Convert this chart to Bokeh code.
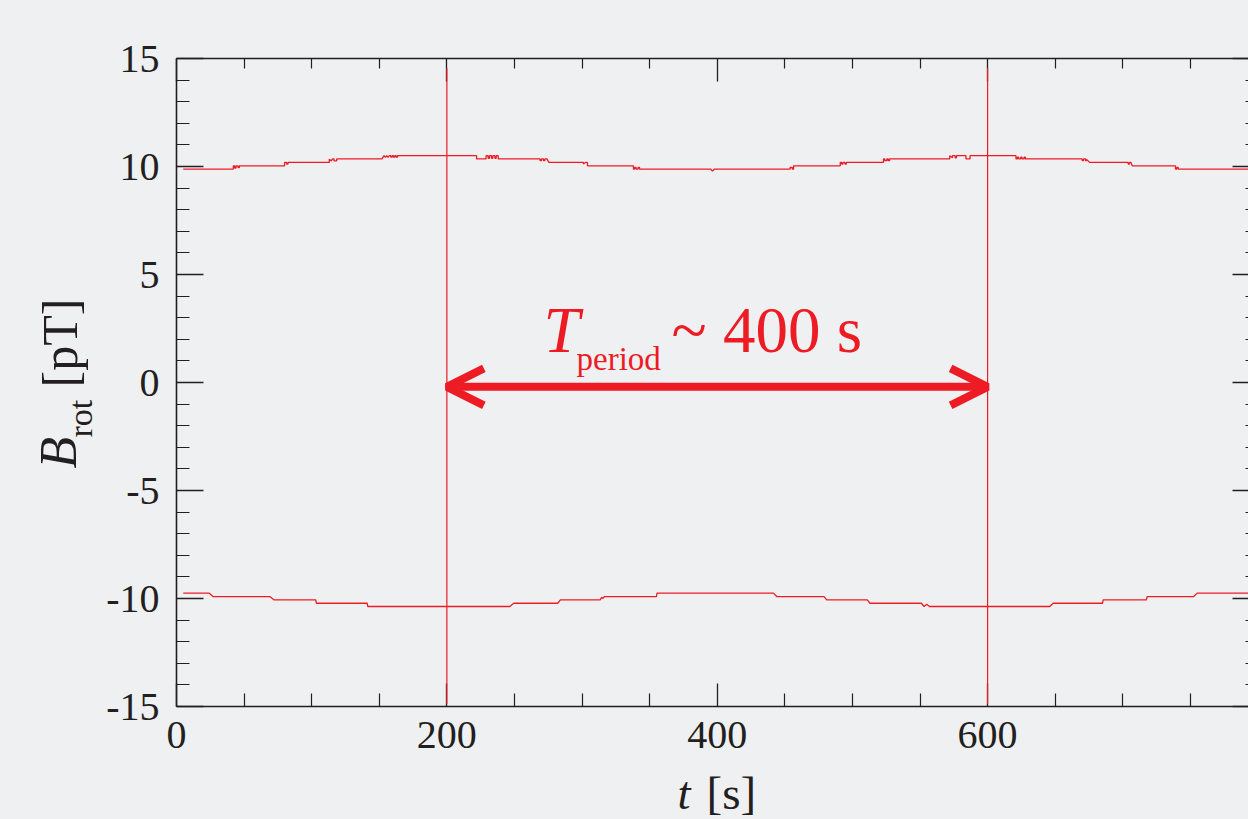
from math import pi

from bokeh.plotting import figure
from bokeh.layouts import row, column
from bokeh.models import Range1d, LinearAxis, FixedTicker, Label, Arrow, OpenHead
from bokeh.core.properties import value
from bokeh.embed import file_html
from bokeh.resources import INLINE

# ---------------- data ----------------
upper_t = [5, 42, 42, 43, 43, 44, 44, 45.5, 45.5, 46.5, 46.5,
           80, 80, 81.5, 81.5, 82.5, 82.5,
           113, 113, 114.5, 115.5, 116.5, 116.5, 118.5, 118.5,
           152, 153.5, 154.5, 155.5, 156.5, 157.5, 158.5, 158.5, 159.5, 159.5, 160.5, 160.5,
           161.5, 161.5, 162.5, 162.5, 163.5, 163.5,
           222, 222, 229, 229, 230.5, 230.5, 231.5, 231.5, 233, 233, 234, 234, 235.5, 235.5,
           236.5, 236.5, 238, 238,
           269, 269, 270, 270, 271.5, 271.5, 272.5, 272.5, 274, 275.5,
           301, 301, 302.5, 304, 304,
           338, 338, 339, 339, 340, 340, 341.5, 341.5, 342.5, 342.5,
           395, 396.5, 398,
           454, 454, 455.5, 455.5, 456.5, 456.5,
           491, 491, 492, 492, 493, 493, 494.5, 494.5, 495.5, 495.5,
           523, 523, 524, 524, 525.5, 525.5, 526.5, 526.5, 527.5, 527.5,
           572, 572, 574, 574, 576, 576, 577, 577, 584, 584, 587, 587,
           621, 621, 622, 622, 623, 623, 624.5, 624.5, 625.5, 625.5, 627, 627, 628, 628,
           670, 670, 671, 671, 672.5, 672.5, 673.5, 675.5,
           704, 704, 705, 705, 706, 707,
           739, 739, 740, 740, 741, 741,
           800]
upper_b = [9.88, 9.88, 10.03, 10.03, 9.93, 9.93, 10.03, 10.03, 9.95, 9.95, 10.03,
           10.03, 10.19, 10.19, 10.11, 10.11, 10.19,
           10.19, 10.33, 10.26, 10.35, 10.35, 10.26, 10.26, 10.35,
           10.35, 10.50, 10.42, 10.50, 10.42, 10.50, 10.50, 10.43, 10.43, 10.50, 10.50, 10.43,
           10.43, 10.50, 10.50, 10.43, 10.43, 10.50,
           10.50, 10.35, 10.35, 10.50, 10.50, 10.38, 10.38, 10.50, 10.50, 10.38, 10.38, 10.50, 10.50, 10.38,
           10.38, 10.50, 10.50, 10.35,
           10.35, 10.27, 10.27, 10.35, 10.35, 10.27, 10.27, 10.35, 10.35, 10.19,
           10.19, 10.11, 10.19, 10.19, 10.03,
           10.03, 9.88, 9.88, 9.96, 9.96, 9.88, 9.88, 9.96, 9.96, 9.88,
           9.88, 9.79, 9.88,
           9.88, 9.96, 9.96, 9.88, 9.88, 10.03,
           10.03, 10.19, 10.19, 10.11, 10.11, 10.19, 10.19, 10.11, 10.11, 10.19,
           10.19, 10.35, 10.35, 10.27, 10.27, 10.35, 10.35, 10.27, 10.27, 10.35,
           10.35, 10.50, 10.40, 10.50, 10.50, 10.40, 10.40, 10.50, 10.50, 10.35, 10.35, 10.50,
           10.50, 10.35, 10.35, 10.43, 10.43, 10.35, 10.35, 10.43, 10.43, 10.35, 10.35, 10.43, 10.43, 10.35,
           10.35, 10.27, 10.27, 10.35, 10.35, 10.25, 10.31, 10.19,
           10.19, 10.11, 10.11, 10.19, 10.19, 10.03,
           10.03, 9.88, 9.88, 9.96, 9.96, 9.88,
           9.88]

lower_t = [5, 24, 27, 69, 72, 103, 103.5, 141, 141.5, 246.5, 249.5, 282, 284,
           313.5, 314.5, 315.5, 316.5, 355, 355.5, 441.6, 444, 479, 481, 511, 513,
           551, 553, 555, 557, 646, 648.5, 685, 685.5, 717.5, 718, 752.5, 755, 800]
lower_b = [-9.75, -9.75, -9.91, -9.91, -10.06, -10.06, -10.22, -10.22, -10.37, -10.37, -10.22, -10.22, -10.06,
           -10.06, -9.94, -10.0, -9.91, -9.91, -9.75, -9.75, -9.91, -9.91, -10.06, -10.06, -10.22,
           -10.22, -10.37, -10.27, -10.37, -10.37, -10.22, -10.22, -10.06, -10.06, -9.91, -9.91, -9.75, -9.75]

period_t = [200, 600]          # marker lines bounding one period
period_top = 14.55
period_bottom = -14.9
arrow_level = -0.2

x_ticks = [0, 200, 400, 600, 800]
y_ticks = [-15, -10, -5, 0, 5, 10, 15]
x_minor = [50, 100, 150, 250, 300, 350, 450, 500, 550, 650, 700, 750]
y_minor = [-14, -13, -12, -11, -9, -8, -7, -6, -4, -3, -2, -1,
           1, 2, 3, 4, 6, 7, 8, 9, 11, 12, 13, 14]

# ---------------- style ----------------
RED = "#ed1c24"
INK = "#231f20"
BG = "#eff0f2"
SERIF = "Liberation Serif"

W, H = 1248, 819          # whole picture
LEFT_W = 100              # strip that holds the y-axis title
MAIN_H = 766              # main plot height; the x-axis title strip fills the rest
FRAME_TOP, FRAME_BOTTOM = 58, 706   # page rows of the plot frame

main = figure(width=W - LEFT_W, height=MAIN_H,
              x_range=Range1d(0, 793), y_range=Range1d(-15, 15),
              output_backend="svg", toolbar_location=None,
              x_axis_location=None, y_axis_location=None,
              min_border_left=176 - LEFT_W, min_border_right=0,
              min_border_top=FRAME_TOP, min_border_bottom=MAIN_H - FRAME_BOTTOM,
              background_fill_color=BG, border_fill_color=BG,
              outline_line_color=None)
main.grid.visible = False


def make_axis(ticks, minor, major_in, minor_in, labels=True, line=True, standoff=10):
    ax = LinearAxis(ticker=FixedTicker(ticks=ticks, minor_ticks=minor))
    ax.axis_line_color = INK if line else None
    ax.axis_line_width = 1.6
    ax.major_tick_line_color = INK
    ax.major_tick_line_width = 1.3
    ax.minor_tick_line_color = INK
    ax.minor_tick_line_width = 1.2
    ax.major_tick_in = major_in
    ax.major_tick_out = 0
    ax.minor_tick_in = minor_in
    ax.minor_tick_out = 0
    ax.major_label_text_font = SERIF
    ax.major_label_text_font_size = "40px"
    ax.major_label_text_color = INK
    ax.major_label_standoff = standoff
    if labels:
        ax.major_label_overrides = {t: str(t) for t in ticks}
    else:
        ax.major_label_overrides = {t: "" for t in ticks}
        ax.major_label_standoff = 0
    return ax


main.add_layout(make_axis(x_ticks, x_minor, 23, 13, standoff=15), "below")
main.add_layout(make_axis(y_ticks, y_minor, 27, 13, standoff=17), "left")
main.add_layout(make_axis(x_ticks, x_minor, 23, 10, labels=False), "above")
main.add_layout(make_axis(y_ticks, y_minor, 16, 3, labels=False, line=False), "right")

# traces
main.line(upper_t, upper_b, line_color=RED, line_width=1.3)
main.line(lower_t, lower_b, line_color=RED, line_width=1.3)
main.segment(x0=period_t, y0=[period_bottom] * 2, x1=period_t, y1=[period_top] * 2,
             line_color=RED, line_width=1.2, level="overlay")

# double arrow
main.add_layout(Arrow(start=OpenHead(size=37, line_color=RED, line_width=8),
                      end=OpenHead(size=37, line_color=RED, line_width=8),
                      x_start=period_t[0], y_start=arrow_level,
                      x_end=period_t[1], y_end=arrow_level,
                      line_color=RED, line_width=8))

x0, y0 = x_ticks[0], y_ticks[0]   # anchor: lower-left corner of the frame


def lab(text, dx, dy, size, color=RED, style="normal"):
    main.add_layout(Label(x=x0, y=y0, x_offset=dx, y_offset=dy, text=text,
                          text_font=SERIF, text_font_size=size, text_font_style=style,
                          text_color=color, text_align="left",
                          text_baseline="alphabetic"))


# annotation "T_period ~ 400 s"
lab("T", 367, 377, "65px", style="italic")
lab("period", 400, 348, "33px")
lab("~ 400 s", 495, 377, "65px")


# ---------- strips for the axis titles (coordinates = page pixels, y downward negated) ----------
def strip(width, height, xr, yr, top=0, bottom=0):
    f = figure(width=width, height=height, x_range=Range1d(*xr), y_range=Range1d(*yr),
               output_backend="svg", toolbar_location=None,
               x_axis_location=None, y_axis_location=None,
               min_border_left=0, min_border_right=0, min_border_top=top, min_border_bottom=bottom,
               background_fill_color=BG, border_fill_color=BG, outline_line_color=None)
    f.grid.visible = False
    return f


# the y strip's frame spans the same rows as the main frame (rows get aligned in a layout)
ystrip = strip(LEFT_W, MAIN_H, (0, LEFT_W), (-FRAME_BOTTOM, -FRAME_TOP),
               top=FRAME_TOP, bottom=MAIN_H - FRAME_BOTTOM)
xstrip = strip(W, H - MAIN_H, (0, W), (-H, -MAIN_H))


def txt(fig, x, y, text, size, style="normal", angle=0.0):
    fig.text(x=[x], y=[-y], text=[text], angle=angle,
             text_font=value(SERIF), text_font_size=size, text_font_style=style,
             text_color=INK, text_align="left", text_baseline="alphabetic")


# y-axis title  B_rot [pT]  (rotated)
txt(ystrip, 58, 468, "B", "52px", "italic", pi / 2)
txt(ystrip, 80, 437, "rot", "34px", "normal", pi / 2)
txt(ystrip, 59, 387, "[pT]", "50px", "normal", pi / 2)

# x-axis title  t [s]
txt(xstrip, 677, 792, "t", "47px", "italic")
txt(xstrip, 706, 792, "[s]", "47px", "normal")

top = row(ystrip, main, styles={"background-color": BG})
layout = column(top, xstrip, styles={"background-color": BG})

open("out.html", "w").write(file_html(layout, INLINE))
